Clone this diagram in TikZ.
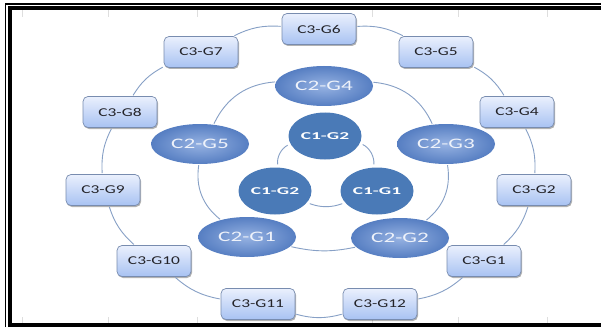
\documentclass[tikz,border=0pt]{standalone}
\usepackage{fontspec}
\setmainfont{Carlito}
\newfontfamily\cthree[FakeStretch=1.45]{Carlito}
\newfontfamily\ctwo[FakeStretch=1.6]{Carlito}
\newfontfamily\cone[FakeStretch=1.85]{Carlito}
\usetikzlibrary{shapes.geometric,shadows}
\definecolor{c3top}{RGB}{234,240,253}
\definecolor{c3bot}{RGB}{168,194,242}
\definecolor{c3border}{RGB}{120,140,175}
\definecolor{c3text}{RGB}{35,35,40}
\definecolor{c2in}{RGB}{150,178,226}
\definecolor{c2out}{RGB}{86,126,194}
\definecolor{c1fill}{RGB}{74,122,183}
\definecolor{ringc}{RGB}{135,160,198}
\definecolor{gridc}{RGB}{222,222,222}
\begin{document}
\begin{tikzpicture}[x=1pt,y=1pt,
  c3box/.style={rectangle, rounded corners=5pt, minimum width=74pt, minimum height=31pt,
    inner sep=0pt, draw=c3border, line width=0.7pt, top color=c3top, bottom color=c3bot,
    drop shadow={shadow xshift=1pt, shadow yshift=-1.5pt, opacity=.3, fill=black},
    font=\cthree\fontsize{12}{14}\selectfont, text=c3text},
  c2ell/.style={ellipse, minimum width=98pt, minimum height=40pt, inner sep=0pt,
    inner color=c2in, outer color=c2out, font=\ctwo\fontsize{14.5}{16}\selectfont,
    text={rgb,255:red,238;green,242;blue,250}},
  c1ell/.style={ellipse, minimum width=73pt, minimum height=47pt, inner sep=0pt,
    fill=c1fill, font=\cone\bfseries\fontsize{10.5}{12}\selectfont, text=white},
  ring/.style={draw=ringc, line width=0.9pt, shorten >=1pt, shorten <=1pt},
  framethin/.style={draw=black, line width=1.2pt},
  framethick/.style={draw=black, line width=4pt},
  gridstub/.style={draw=gridc, line width=0.8pt}]
\useasboundingbox (0,0) rectangle (601,327);
\fill[white] (0,0) rectangle (601,327);
% grid stubs
\foreach \gx in {22,108,197,372,458,547}{
  \draw[gridstub] (\gx,317) -- (\gx,310);
  \draw[gridstub] (\gx,10) -- (\gx,4);
}
% frame
\draw[framethin] (5.5,0) -- (5.5,323) -- (601,323);
\draw[framethick] (10.3,0) -- (10.3,318.8) -- (601,318.8);
\draw[black, line width=3.5pt] (12,1.8) -- (601,1.8);
% outer ring nodes
\node[c3box] (g6)  at (319,298) {C3-G6};
\node[c3box] (g5)  at (436,275) {C3-G5};
\node[c3box] (g4)  at (517,215) {C3-G4};
\node[c3box] (g2)  at (534,137) {C3-G2};
\node[c3box] (g1)  at (484,66)  {C3-G1};
\node[c3box] (g12) at (380,23)  {C3-G12};
\node[c3box] (g11) at (258,23)  {C3-G11};
\node[c3box] (g10) at (154,66)  {C3-G10};
\node[c3box] (g9)  at (103,137) {C3-G9};
\node[c3box] (g8)  at (120,215) {C3-G8};
\node[c3box] (g7)  at (201,275) {C3-G7};
% middle ring nodes
\node[c2ell] (m4) at (324,241) {C2-G4};
\node[c2ell] (m3) at (446,183) {C2-G3};
\node[c2ell] (m2) at (400,89)  {C2-G2};
\node[c2ell] (m1) at (247,90)  {C2-G1};
\node[c2ell] (m5) at (200,183) {C2-G5};
% inner ring nodes
\node[c1ell] (ct) at (325,191) {C1-G2};
\node[c1ell] (cl) at (275,136) {C1-G2};
\node[c1ell] (cr) at (377,136) {C1-G1};
% outer ring connectors
\foreach \a/\b in {g6/g5,g5/g4,g4/g2,g2/g1,g1/g12,g12/g11,g11/g10,g10/g9,g9/g8,g8/g7,g7/g6}
  \draw[ring] (\a) to[bend left=15] (\b);
% middle ring connectors
\foreach \a/\b/\ang in {m4/m3/30,m3/m2/30,m2/m1/12,m1/m5/30,m5/m4/30}
  \draw[ring] (\a) to[bend left=\ang] (\b);
% inner ring connectors
\draw[ring, shorten >=3pt, shorten <=3pt] (ct) to[bend left=35] (cr);
\draw[ring, shorten >=3pt, shorten <=3pt] (cr) to[bend left=20] (cl);
\draw[ring, shorten >=3pt, shorten <=3pt] (cl) to[bend left=35] (ct);
\end{tikzpicture}
\end{document}
